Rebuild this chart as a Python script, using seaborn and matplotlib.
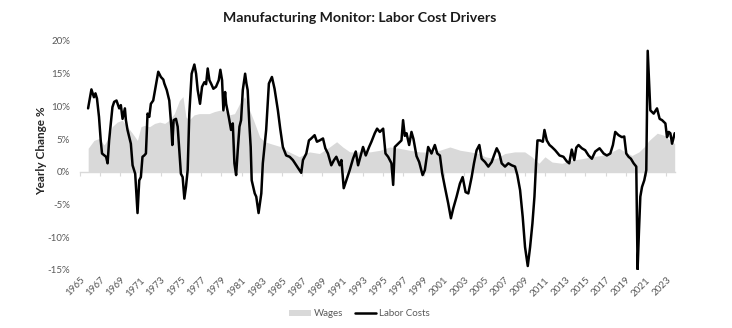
import matplotlib
matplotlib.use("Agg")
import matplotlib.pyplot as plt
import seaborn as sns
import pandas as pd

sns.set_theme(style="white")
plt.rcParams['font.family'] = ['Lato', 'DejaVu Sans']

# ---- Data ----
lc_years = [1965.82, 1966.15, 1966.4, 1966.55, 1966.7, 1966.9, 1967.07, 1967.2, 1967.6, 1967.75,
            1967.9, 1968.07, 1968.23, 1968.4, 1968.63, 1968.9, 1969.06, 1969.23, 1969.46, 1969.56,
            1969.72, 1970.05, 1970.22, 1970.48, 1970.71, 1970.88, 1971.04, 1971.2, 1971.37, 1971.54,
            1971.7, 1971.87, 1972.03, 1972.26, 1972.46, 1972.76, 1973.02, 1973.26, 1973.36, 1973.6,
            1973.85, 1974.05, 1974.15, 1974.28, 1974.51, 1974.68, 1974.84, 1975.0, 1975.17, 1975.34,
            1975.5, 1975.67, 1975.83, 1976.06, 1976.33, 1976.5, 1976.66, 1976.89, 1977.09, 1977.32,
            1977.49, 1977.65, 1977.82, 1977.98, 1978.21, 1978.47, 1978.74, 1978.9, 1979.07, 1979.2,
            1979.37, 1979.47, 1979.73, 1979.96, 1980.13, 1980.29, 1980.46, 1980.62, 1980.79, 1980.95,
            1981.12, 1981.35, 1981.48, 1981.6, 1981.78, 1981.9, 1982.0, 1982.3, 1982.45, 1982.68,
            1982.95, 1983.1, 1983.43, 1983.7, 1984.0, 1984.26, 1984.59, 1984.82, 1985.08, 1985.41,
            1985.75, 1986.07, 1986.41, 1986.74, 1986.9, 1987.07, 1987.4, 1987.66, 1987.89, 1988.22,
            1988.45, 1988.72, 1989.05, 1989.28, 1989.54, 1989.87, 1990.14, 1990.37, 1990.7, 1990.87,
            1991.1, 1991.36, 1991.69, 1992.02, 1992.29, 1992.52, 1992.75, 1993.01, 1993.28, 1993.61,
            1993.84, 1994.17, 1994.4, 1994.67, 1995.0, 1995.23, 1995.49, 1995.82, 1995.99, 1996.15,
            1996.48, 1996.81, 1996.97, 1997.14, 1997.31, 1997.57, 1997.8, 1998.0, 1998.3, 1998.56,
            1998.9, 1999.12, 1999.45, 1999.78, 2000.11, 2000.35, 2000.61, 2000.84, 2001.1, 2001.43,
            2001.7, 2001.93, 2002.26, 2002.59, 2002.86, 2003.15, 2003.42, 2003.75, 2003.98, 2004.24,
            2004.51, 2004.74, 2005.07, 2005.4, 2005.73, 2005.96, 2006.23, 2006.49, 2006.72, 2007.05,
            2007.38, 2007.71, 2008.04, 2008.27, 2008.54, 2008.8, 2009.03, 2009.3, 2009.53, 2009.76,
            2009.96, 2010.12, 2010.26, 2010.52, 2010.79, 2010.95, 2011.18, 2011.45, 2011.68, 2012.01,
            2012.44, 2012.83, 2013.16, 2013.4, 2013.65, 2013.9, 2014.1, 2014.32, 2014.65, 2014.98,
            2015.31, 2015.64, 2015.97, 2016.4, 2016.8, 2017.12, 2017.46, 2017.72, 2017.95, 2018.28,
            2018.61, 2018.84, 2019.04, 2019.27, 2019.5, 2019.77, 2020.03, 2020.16, 2020.3, 2020.43,
            2020.6, 2020.82, 2021.02, 2021.16, 2021.29, 2021.42, 2021.75, 2022.08, 2022.34, 2022.58,
            2022.91, 2023.07, 2023.24, 2023.4, 2023.57, 2023.73, 2023.83]
lc_values = [9.7, 12.6, 11.4, 12.0, 11.2, 8.4, 4.8, 2.8, 2.3, 1.3,
             4.8, 7.4, 9.9, 10.7, 10.9, 9.7, 10.2, 8.1, 9.7, 7.9,
             6.4, 4.3, 1.0, -0.3, -6.3, -1.3, -0.8, 2.3, 2.5, 2.8,
             8.9, 8.4, 10.4, 10.9, 12.7, 15.3, 14.5, 14.1, 13.5, 12.5,
             10.9, 6.9, 4.1, 7.9, 8.1, 6.9, 3.3, -0.3, -0.8, -4.1,
             -2.3, 0.3, 8.9, 15.0, 16.4, 15.0, 12.5, 10.4, 13.0, 13.7,
             13.4, 15.8, 14.0, 13.5, 12.7, 13.0, 14.0, 15.6, 14.0, 9.4,
             12.2, 10.4, 8.4, 6.4, 7.4, 1.3, -0.5, 3.3, 6.9, 7.9,
             12.5, 15.0, 13.5, 12.5, 6.9, 3.8, -1.3, -3.3, -3.8, -6.3,
             -3.3, 1.3, 6.4, 13.5, 14.5, 12.7, 9.4, 6.6, 3.8, 2.5,
             2.3, 1.8, 1.0, 0.25, -0.15, 1.8, 2.8, 4.8, 5.1, 5.6,
             4.6, 4.8, 5.1, 3.6, 2.8, 1.0, 1.8, 2.3, 1.0, 1.8,
             -2.5, -1.3, 0.25, 2.0, 3.1, 1.0, 2.3, 3.8, 2.5, 3.8,
             4.6, 5.9, 6.6, 6.1, 6.6, 2.8, 2.3, 1.3, -2.0, 3.8,
             4.3, 4.8, 7.9, 5.5, 5.9, 4.1, 6.1, 5.0, 2.4, 1.5,
             -0.5, 0.25, 3.8, 2.8, 4.1, 2.8, 2.5, -0.25, -2.3, -4.8,
             -7.1, -5.6, -3.8, -1.8, -0.8, -3.1, -3.3, -0.8, 1.3, 3.3,
             4.1, 2.0, 1.5, 0.8, 1.5, 2.5, 3.6, 2.8, 1.3, 0.8,
             1.3, 1.0, 0.8, -0.5, -2.8, -6.9, -11.5, -14.4, -11.5, -7.9,
             -3.8, 1.3, 4.8, 4.8, 4.6, 6.4, 4.8, 4.1, 3.8, 3.3,
             2.5, 2.3, 1.6, 1.3, 3.4, 1.8, 3.7, 4.1, 3.6, 3.3,
             2.5, 2.0, 3.1, 3.6, 2.8, 2.5, 2.8, 4.1, 6.1, 5.6,
             5.3, 5.4, 2.8, 2.3, 2.0, 1.3, 0.8, -14.9, -8.9, -3.8,
             -2.3, -1.3, 0.25, 18.5, 14.0, 9.4, 8.9, 9.7, 8.1, 7.9,
             7.4, 5.3, 6.1, 5.9, 4.3, 5.3, 5.9]

wage_years = [1965.83, 1966.4, 1966.9, 1967.4, 1967.9, 1968.2, 1968.7, 1969.2, 1969.7, 1970.2,
              1970.7, 1971.05, 1971.4, 1971.9, 1972.4, 1972.9, 1973.4, 1973.85, 1974.35, 1974.85,
              1975.2, 1975.5, 1975.8, 1976.3, 1976.8, 1977.3, 1977.8, 1978.3, 1978.8, 1979.3,
              1979.8, 1980.3, 1980.8, 1981.3, 1981.8, 1982.3, 1982.8, 1983.3, 1983.9, 1984.75,
              1985.7, 1986.7, 1987.7, 1988.7, 1989.7, 1990.4, 1991.0, 1991.7, 1992.7, 1993.7,
              1994.7, 1995.65, 1996.6, 1997.6, 1998.6, 1999.6, 2000.6, 2001.6, 2002.6, 2003.6,
              2004.4, 2005.1, 2006.1, 2007.05, 2008.0, 2009.0, 2009.7, 2010.4, 2011.0, 2011.7,
              2012.7, 2013.7, 2014.65, 2015.6, 2016.6, 2017.6, 2018.3, 2018.95, 2019.6, 2020.3,
              2020.8, 2021.3, 2022.1, 2022.75, 2023.4, 2023.83]
wage_values = [3.6, 4.8, 5.1, 4.1, 5.3, 6.9, 7.6, 7.9, 6.9, 5.9,
               4.8, 6.9, 7.1, 6.9, 7.4, 7.6, 7.4, 7.9, 8.9, 10.9,
               11.5, 8.4, 7.9, 8.7, 8.9, 8.9, 8.9, 9.2, 9.4, 9.4,
               8.7, 8.9, 10.4, 11.5, 9.4, 7.4, 5.3, 4.6, 4.3, 3.9,
               3.05, 2.3, 3.05, 2.8, 3.8, 4.6, 3.8, 3.05, 3.05, 3.05,
               3.3, 3.8, 3.6, 3.3, 3.05, 3.0, 3.3, 3.8, 3.3, 3.05,
               2.8, 2.3, 2.0, 2.8, 3.05, 3.05, 2.3, 1.3, 2.3, 1.5,
               1.3, 1.8, 2.0, 2.3, 2.5, 3.05, 3.6, 3.05, 2.5, 3.05,
               3.8, 4.8, 5.9, 5.6, 4.8, 4.3]

tick_years = list(range(1965, 2024, 2))
y_ticks = [-15, -10, -5, 0, 5, 10, 15, 20]

title = "Manufacturing Monitor: Labor Cost Drivers"
y_label = "Yearly Change %"

lc = pd.DataFrame({"year": lc_years, "value": lc_values})
wg = pd.DataFrame({"year": wage_years, "value": wage_values})

GRAY_TXT = "#595959"
FILL = "#d9d9d9"

fig = plt.figure(figsize=(7.32, 3.28), dpi=100)
ax = fig.add_axes([0.109, 0.177, 0.813, 0.698])

ax.fill_between(wg["year"], 0, wg["value"], color=FILL, linewidth=0, label="Wages", zorder=1)
sns.lineplot(data=lc, x="year", y="value", ax=ax, color="black", linewidth=1.8,
             label="Labor Costs", estimator=None, sort=False, zorder=3)

ax.set_xlim(1965, 2023.85)
ax.set_ylim(-15, 20)
ax.set_yticks(y_ticks)
ax.set_yticklabels([f"{v}%" for v in y_ticks])
ax.set_xticks(tick_years)
ax.set_xticklabels([str(y) for y in tick_years], rotation=45, ha="right",
                   rotation_mode="anchor")
ax.tick_params(axis="both", length=0, labelsize=7, labelcolor=GRAY_TXT)
ax.tick_params(axis="x", pad=4)
ax.tick_params(axis="y", pad=7)
for s in ax.spines.values():
    s.set_visible(False)
ax.set_xlabel("")
ax.set_ylabel(y_label, fontsize=8.5, fontweight="bold", color="#262626")
ax.yaxis.set_label_coords(-0.055, 0.52)

# zero axis line with tick marks
sec = ax.secondary_xaxis(0, transform=ax.transData)
sec.set_xticks(tick_years)
sec.tick_params(axis="x", length=3, width=0.8, color=FILL, labelbottom=False,
                direction="out")
sec.spines["bottom"].set_color(FILL)
sec.spines["bottom"].set_linewidth(1.0)

handles, labels = ax.get_legend_handles_labels()
if ax.get_legend() is not None:
    ax.get_legend().remove()
fig.legend(handles, labels, loc="center", bbox_to_anchor=(0.491, 0.043), ncol=2,
           frameon=False, fontsize=7, labelcolor=GRAY_TXT, handlelength=2.2,
           columnspacing=1.2, handletextpad=0.3)

fig.text(0.492, 0.945, title, ha="center", va="center", fontsize=10.2,
         fontweight="bold", color="#1a1a1a")

fig.savefig("out.png", dpi=100, facecolor="white")
